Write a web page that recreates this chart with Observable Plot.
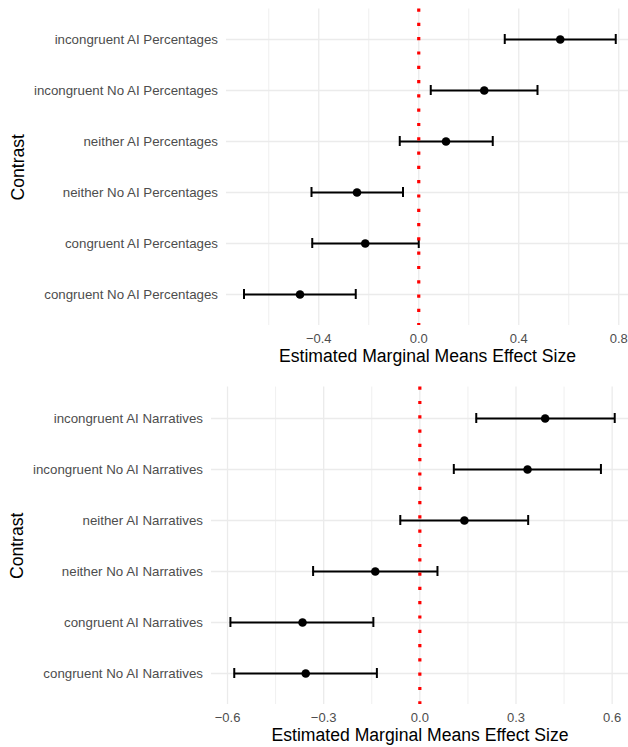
<!DOCTYPE html>
<html>
<head>
<meta charset="utf-8">
<script src="https://cdn.jsdelivr.net/npm/d3@7"></script>
<script src="https://cdn.jsdelivr.net/npm/@observablehq/plot@0.6"></script>
<style>
  html, body { margin: 0; padding: 0; background: #ffffff; }
  body { font-family: "Liberation Sans", Arial, sans-serif; width: 628px; }
  #chart svg { display: block; }
</style>
</head>
<body>
<div id="chart"></div>
<script>
// ---- Data: top panel (Percentages) ----
const contrastsTop = [
  "incongruent AI Percentages",
  "incongruent No AI Percentages",
  "neither AI Percentages",
  "neither No AI Percentages",
  "congruent AI Percentages",
  "congruent No AI Percentages"
];
const estimateTop = [0.566, 0.262, 0.109, -0.247, -0.214, -0.475];
const lowerTop    = [0.344, 0.048, -0.076, -0.429, -0.426, -0.699];
const upperTop    = [0.788, 0.475, 0.296, -0.063, 0.000, -0.252];
const ticksTop      = [-0.4, 0.0, 0.4, 0.8];
const minorTicksTop = [-0.6, -0.2, 0.2, 0.6];

// ---- Data: bottom panel (Narratives) ----
const contrastsBottom = [
  "incongruent AI Narratives",
  "incongruent No AI Narratives",
  "neither AI Narratives",
  "neither No AI Narratives",
  "congruent AI Narratives",
  "congruent No AI Narratives"
];
const estimateBottom = [0.391, 0.336, 0.139, -0.139, -0.366, -0.356];
const lowerBottom    = [0.176, 0.106, -0.061, -0.333, -0.591, -0.579];
const upperBottom    = [0.608, 0.565, 0.338, 0.055, -0.145, -0.134];
const ticksBottom      = [-0.6, -0.3, 0.0, 0.3, 0.6];
const minorTicksBottom = [-0.45, -0.15, 0.15, 0.45];

const xTitle = "Estimated Marginal Means Effect Size";
const yTitle = "Contrast";

function panel({contrasts, est, low, high, domain, ticks, minorTicks, height, marginTop, marginBottom, marginLeft, yTitleX}) {
  const rows = contrasts.map((c, i) => ({contrast: c, est: est[i], low: low[i], high: high[i]}));
  const grid = "#EBEBEB";
  return Plot.plot({
    width: 628,
    height,
    marginTop,
    marginBottom,
    marginLeft,
    marginRight: 0,
    style: {fontFamily: "'Liberation Sans', Arial, sans-serif", background: "#ffffff", overflow: "visible"},
    x: {domain, label: null},
    y: {type: "band", domain: contrasts, paddingInner: 0.804, paddingOuter: 0.502, label: null},
    marks: [
      Plot.gridX(minorTicks, {stroke: grid, strokeOpacity: 1, strokeWidth: 0.8}),
      Plot.gridX(ticks, {stroke: grid, strokeOpacity: 1, strokeWidth: 1.3}),
      Plot.gridY({stroke: grid, strokeOpacity: 1, strokeWidth: 1.3}),
      Plot.axisX(ticks, {tickSize: 0, tickPadding: 8.5, fontSize: 13, fill: "#4D4D4D", tickFormat: d3.format(".1f"), label: null}),
      Plot.axisY({tickSize: 0, tickPadding: 8.5, fontSize: 13.3, fill: "#4D4D4D", label: null}),
      Plot.ruleY(rows, {y: "contrast", x1: "low", x2: "high", stroke: "black", strokeWidth: 2}),
      Plot.tickX(rows, {x: "low", y: "contrast", stroke: "black", strokeWidth: 2}),
      Plot.tickX(rows, {x: "high", y: "contrast", stroke: "black", strokeWidth: 2}),
      Plot.dot(rows, {x: "est", y: "contrast", r: 4.3, fill: "black", stroke: null}),
      Plot.ruleX([0], {stroke: "#FF0000", strokeWidth: 3.2, strokeDasharray: "3.2,11.1"}),
      Plot.text([xTitle], {text: d => d, frameAnchor: "bottom", dy: 36.5, fontSize: 17.6, fill: "black"}),
      Plot.text([yTitle], {text: d => d, frameAnchor: "left", textAnchor: "middle", lineAnchor: "middle", dx: yTitleX - marginLeft, rotate: -90, fontSize: 17.6, fill: "black"})
    ]
  });
}

const chart = document.getElementById("chart");
chart.appendChild(panel({
  contrasts: contrastsTop, est: estimateTop, low: lowerTop, high: upperTop,
  domain: [-0.769, 0.839], ticks: ticksTop, minorTicks: minorTicksTop,
  height: 370, marginTop: 8.5, marginBottom: 45, marginLeft: 226, yTitleX: 17.5
}));
chart.appendChild(panel({
  contrasts: contrastsBottom, est: estimateBottom, low: lowerBottom, high: upperBottom,
  domain: [-0.650, 0.651], ticks: ticksBottom, minorTicks: minorTicksBottom,
  height: 377, marginTop: 16.6, marginBottom: 43, marginLeft: 211, yTitleX: 17
}));
</script>
</body>
</html>
